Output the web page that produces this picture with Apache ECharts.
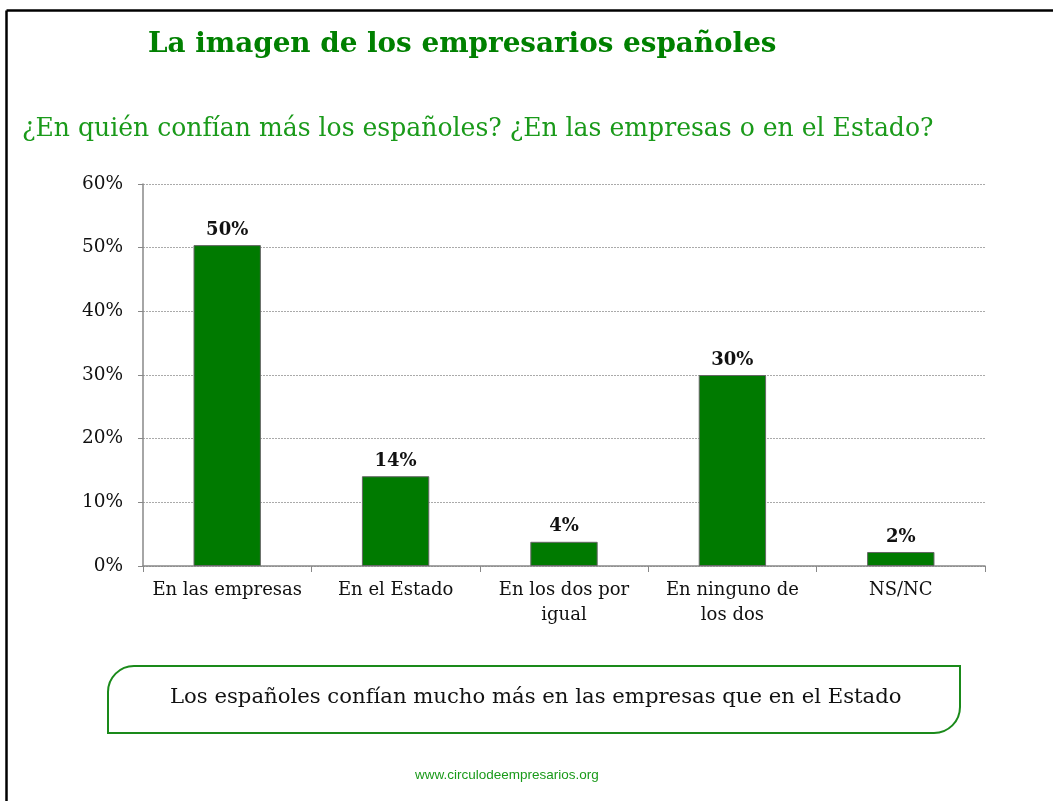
<!DOCTYPE html>
<html>
<head>
<meta charset="utf-8">
<script src="https://cdn.jsdelivr.net/npm/echarts@6/dist/echarts.min.js"></script>
<style>
html,body{margin:0;padding:0;background:#fff;}
#chart{width:1053px;height:801px;}
</style>
</head>
<body>
<div id="chart"></div>
<script>
const titleText = "La imagen de los empresarios españoles";
const subtitleText = "¿En quién confían más los españoles? ¿En las empresas o en el Estado?";
const categories = ["En las empresas", "En el Estado", "En los dos por\nigual", "En ninguno de\nlos dos", "NS/NC"];
const values = [50.4, 14.1, 3.8, 30.0, 2.2];
const labels = ["50%", "14%", "4%", "30%", "2%"];
const yTicks = [0, 10, 20, 30, 40, 50, 60];
const noteText = "Los españoles confían mucho más en las empresas que en el Estado";
const footerText = "www.circulodeempresarios.org";

const SERIF = "'DejaVu Serif', serif";
const chart = echarts.init(document.getElementById('chart'));
chart.setOption({
  backgroundColor: '#fff',
  animation: false,
  grid: {left: 143, right: 68, top: 184, bottom: 235},
  xAxis: {
    type: 'category',
    data: categories,
    axisLine: {lineStyle: {color: '#888', width: 1.5}},
    axisTick: {show: true, length: 6, lineStyle: {color: '#888'}},
    axisLabel: {color: '#111', fontFamily: SERIF, fontSize: 18, lineHeight: 25, margin: 12, interval: 0}
  },
  yAxis: {
    type: 'value',
    min: 0, max: 60, interval: 10,
    axisLine: {show: true, lineStyle: {color: '#888', width: 1.5}},
    axisTick: {show: true, length: 5, lineStyle: {color: '#888'}},
    splitLine: {lineStyle: {color: '#aaa', type: [2, 1], width: 1}},
    axisLabel: {color: '#111', fontFamily: SERIF, fontSize: 18.5, margin: 20,
      formatter: v => yTicks.includes(v) ? v + '%' : ''}
  },
  series: [{
    type: 'bar',
    data: values,
    barWidth: '40%',
    itemStyle: {color: '#007A00', borderColor: '#666', borderWidth: 1},
    label: {show: true, position: 'top', distance: 6, color: '#111', fontFamily: SERIF,
      fontWeight: 'bold', fontSize: 18, formatter: p => labels[p.dataIndex]}
  }],
  graphic: [
    {type: 'line', shape: {x1: 6.5, y1: 801, x2: 6.5, y2: 10.5}, style: {stroke: '#000', lineWidth: 2.5}},
    {type: 'line', shape: {x1: 6.5, y1: 10.5, x2: 1053, y2: 10.5}, style: {stroke: '#000', lineWidth: 2.5}},
    {type: 'text', left: 148, top: 31, style: {text: titleText, fill: '#008000', font: "bold 27.8px " + SERIF}},
    {type: 'text', left: 22, top: 117, style: {text: subtitleText, fill: '#1a9a1a', font: "25.1px " + SERIF}},
    {type: 'rect', shape: {x: 108, y: 666, width: 852, height: 67, r: [26, 0, 26, 0]},
      style: {fill: '#fff', stroke: '#1a8a1a', lineWidth: 2}},
    {type: 'text', left: 170, top: 687, style: {text: noteText, fill: '#111', font: "21.2px " + SERIF}},
    {type: 'text', left: 415, top: 768, style: {text: footerText, fill: '#1a9a1a', font: "13.5px 'Liberation Sans Narrow', 'Liberation Sans', sans-serif"}}
  ]
});
</script>
</body>
</html>
